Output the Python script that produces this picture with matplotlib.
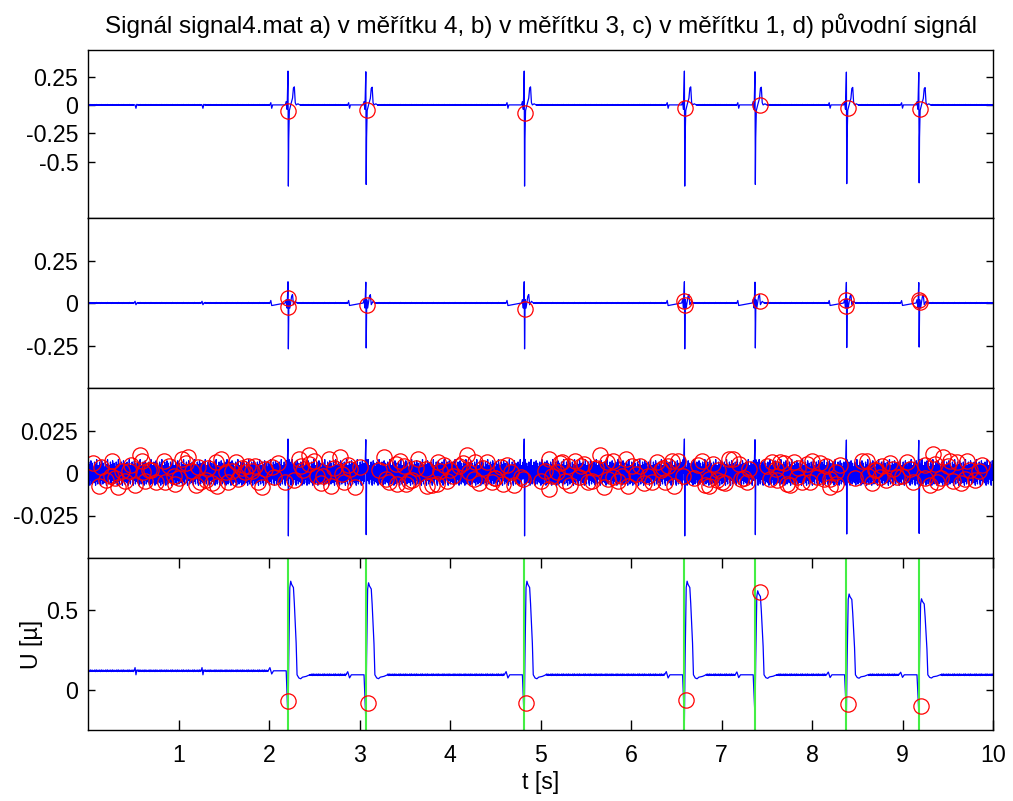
import numpy as np
import matplotlib
matplotlib.use('Agg')
import matplotlib.pyplot as plt

plt.rcParams['font.family'] = ['Liberation Sans', 'DejaVu Sans']

# detected beats (green lines) and per-beat peak of original signal
beats = [2.21, 3.07, 4.82, 6.59, 7.37, 8.38, 9.18]
peaks = [0.68, 0.67, 0.68, 0.68, 0.62, 0.60, 0.57]
small_waves = [0.52, 1.26]

# beat shapes (offset [s], value above baseline)
p4_off = [-0.22, -0.2, -0.18, -0.16, -0.02, 0.0, 0.008, 0.02, 0.03, 0.04, 0.06, 0.07, 0.09, 0.10, 0.12, 0.14, 0.16, 0.20, 0.24]
p4_val = [0, 0.02, -0.02, 0, 0, -0.29, 0.1, 0.55, 0.59, 0.57, 0.55, 0.45, 0.2, 0.0, -0.02, -0.025, -0.015, -0.01, 0]
p1_off = [-0.2, -0.19, -0.18, -0.17, -0.03, -0.02, -0.01, 0.0, 0.004, 0.008, 0.015, 0.03, 0.05, 0.06, 0.07, 0.08, 0.09, 0.11, 0.13]
p1_val = [0, 0.02, -0.03, 0, 0, 0.03, -0.04, 0.3, -0.72, -0.3, -0.05, 0, 0.06, 0.15, 0.16, 0.02, 0.0, 0.01, 0]
p2_off = [-0.2, -0.19, -0.18, -0.03, -0.02, -0.01, 0.0, 0.004, 0.01, 0.02, 0.04, 0.05, 0.06, 0.08, 0.10]
p2_val = [0, 0.015, -0.015, 0, 0.02, -0.03, 0.125, -0.27, 0.02, -0.03, 0.04, 0.05, -0.01, 0.01, 0]
p3_off = [-0.01, 0.0, 0.004, 0.01, 0.02]
p3_val = [0, 0.02, -0.037, 0.008, 0]
sw_off = [-0.01, 0.0, 0.01, 0.02, 0.03]
sw_val = [0, 0.02, -0.025, 0.005, 0]

noise_pat = [0.6, -0.5, 0.9, -0.8, 0.4, -1.0, 0.7, -0.3, 1.0, -0.6,
             0.2, -0.9, 0.8, -0.7, 0.5, -0.4, 0.3, -0.8, 0.9, -0.5,
             0.7, -1.0, 0.5, -0.6, 1.1, -0.7, 0.3, -0.9, 0.6, -0.4]

# detections (red circles)
c1_t = [2.21, 3.08, 4.83, 6.60, 7.43, 8.40, 9.19]
c1_v = [-0.05, -0.045, -0.07, -0.02, 0.0, -0.02, -0.035]
c2_t = [2.21, 2.21, 3.08, 4.83, 6.59, 6.60, 7.42, 8.38, 8.38, 9.18, 9.19]
c2_v = [0.03, -0.025, -0.01, -0.035, 0.01, -0.01, 0.01, 0.02, -0.02, 0.02, 0.005]
c4_t = [2.21, 3.09, 4.84, 6.61, 7.43, 8.40, 9.20]
c4_v = [-0.07, -0.08, -0.08, -0.065, 0.61, -0.09, -0.10]
c3_t = [0.12, 0.14, 0.27, 0.25, 0.38, 0.41, 0.45, 0.58, 0.60, 0.61, 0.63, 0.84, 0.85, 0.95, 0.96,
        1.04, 1.11, 1.15, 1.22, 1.24, 1.41, 1.42, 1.52, 1.59, 1.63, 1.66, 1.74, 1.77, 1.85, 1.88,
        1.96, 2.03, 2.05, 2.18, 2.33, 2.35, 2.44, 2.44, 2.53, 2.66, 2.68, 2.79, 2.81, 2.90, 2.83,
        3.27, 3.29, 3.40, 3.41, 3.49, 3.51, 3.65, 3.73, 3.75, 3.87, 3.89, 3.86, 3.97, 4.10, 4.19,
        4.21, 4.26, 4.28, 4.41, 4.46, 4.56, 4.59, 4.67, 4.78, 4.81, 5.01, 5.09, 5.09, 5.18, 5.24,
        5.27, 5.38, 5.42, 5.48, 5.57, 5.66, 5.73, 5.75, 5.86, 5.94, 5.97, 6.01, 6.05, 6.19, 6.23,
        6.29, 6.41, 6.45, 6.47, 6.58, 6.78, 6.86, 6.86, 6.91, 7.00, 7.08, 7.19, 7.22, 7.30, 7.28,
        7.56, 7.54, 7.65, 7.72, 7.80, 7.83, 7.89, 7.94, 8.00, 8.05, 8.13, 8.16, 8.27, 8.27, 8.61,
        8.62, 8.77, 8.75, 8.90, 8.94, 9.05, 9.08, 9.12, 9.34, 9.36, 9.45, 9.38, 9.56, 9.60, 9.71,
        9.69, 0.30, 0.70, 1.30, 1.70, 2.60, 3.00, 3.55, 4.00, 4.50, 5.30, 5.80, 6.35, 6.95, 7.60,
        8.20, 8.70, 9.25, 9.85,
        0.05, 0.20, 0.33, 0.48, 0.52, 0.67, 0.75, 0.90, 1.00, 1.08, 1.19, 1.33, 1.37, 1.47, 1.55,
        1.81, 1.92, 2.10, 2.28, 2.38, 2.50, 2.57, 2.72, 2.87, 2.95, 3.22, 3.33, 3.45, 3.58, 3.62,
        3.80, 3.93, 4.03, 4.14, 4.32, 4.37, 4.50, 4.63, 4.71, 5.05, 5.13, 5.21, 5.33, 5.45, 5.52,
        5.61, 5.70, 5.80, 5.90, 6.10, 6.14, 6.33, 6.38, 6.52, 6.70, 6.74, 6.82, 6.96, 7.04, 7.13,
        7.25, 7.50, 7.61, 7.69, 7.76, 7.85, 7.98, 8.09, 8.20, 8.31, 8.47, 8.55, 8.66, 8.71, 8.82,
        8.86, 8.99, 9.25, 9.30, 9.42, 9.50, 9.53, 9.65, 9.75, 9.80, 9.88]
c3_v = [-0.0075, 0.0034, 0.0073, -0.0016, 0.0014, -0.0046, 0.0014, 0.0103, 0.0073, 0.0004, -0.0046,
        0.0073, -0.0055, -0.0016, -0.0065, 0.0083, 0.0093, 0.0014, 0.0034, -0.0055, 0.0064, -0.0075,
        0.0004, 0.0014, 0.0064, -0.0036, 0.0004, 0.0044, 0.0044, -0.0055, 0.0024, 0.0034, -0.0026,
        -0.0055, 0.0083, 0.0044, 0.0103, 0.0054, -0.0016, 0.0083, -0.0075, 0.0093, -0.0006, 0.0024,
        -0.0055, 0.0093, -0.0036, 0.0054, -0.0065, 0.0044, -0.0065, 0.0083, 0.0024, -0.0075, 0.0064,
        0.0014, -0.0065, -0.0046, 0.0044, 0.0103, 0.0004, -0.0036, 0.0064, 0.0064, -0.0055, 0.0034,
        -0.0065, 0.0004, -0.0026, -0.0036, -0.0046, 0.0083, -0.0095, 0.0004, 0.0064, -0.0046, 0.0073,
        -0.0026, 0.0054, -0.0046, 0.0103, 0.0064, -0.0036, -0.0046, 0.0083, -0.0075, 0.0044, -0.0006,
        -0.0016, -0.0055, 0.0064, 0.0044, 0.0073, -0.0075, -0.0016, 0.0073, -0.0036, -0.0075, 0.0054,
        -0.0055, 0.0083, 0.0054, -0.0036, 0.0024, -0.0055, 0.0064, -0.0036, 0.0064, -0.0065, 0.0064,
        -0.0026, -0.0055, 0.0054, 0.0073, -0.0026, -0.0036, 0.0044, 0.0004, -0.0065, 0.0073, -0.0016,
        0.0044, -0.0026, 0.0024, -0.0026, 0.0064, 0.0024, -0.0055, 0.0113, 0.0054, 0.0093, -0.0055,
        -0.0046, 0.0064, 0.0073, -0.0036, -0.0030, 0.0020, -0.0040, 0.0030, -0.0020, 0.0035, -0.0045,
        0.0015, -0.0030, 0.0040, -0.0025, 0.0030, -0.0040, 0.0025, -0.0035, 0.0020, -0.0030, 0.0010,
        0.0060, -0.0040, -0.0080, 0.0050, -0.0070, 0.0020, -0.0050, 0.0040, -0.0030, 0.0060, -0.0070,
        0.0030, -0.0060, 0.0080, -0.0050, 0.0010, -0.0080, 0.0060, -0.0040, 0.0020, 0.0070, -0.0060,
        0.0030, 0.0050, -0.0080, 0.0020, -0.0050, 0.0070, -0.0040, 0.0030, -0.0070, 0.0050, -0.0020,
        0.0060, -0.0060, 0.0030, -0.0030, 0.0050, -0.0070, 0.0010, -0.0020, 0.0060, -0.0070, 0.0040,
        -0.0050, 0.0030, -0.0080, 0.0070, -0.0020, 0.0040, -0.0060, 0.0020, -0.0050, 0.0070, -0.0030,
        0.0050, -0.0070, 0.0020, -0.0060, 0.0080, -0.0030, 0.0040, -0.0040, 0.0060, -0.0070, 0.0030,
        -0.0050, 0.0060, -0.0080, 0.0050, -0.0030, 0.0070, -0.0060, 0.0020, -0.0040, 0.0060, -0.0020,
        0.0050, -0.0070, -0.0030, 0.0040, 0.0070, -0.0060, 0.0020, -0.0040, 0.0050]


def build(step, base_fn, noise_amp, off, val, amps, extra=None):
    t = np.arange(0, 10.0001, step)
    v = base_fn(t) + noise_amp * np.resize(noise_pat, t.size)
    keep = np.ones(t.size, bool)
    xs, ys = [], []
    events = [(b, off, val, a) for b, a in zip(beats, amps)]
    if extra is not None:
        events += [(w, sw_off, extra, 1.0) for w in small_waves]
    for t0, o, vv, a in events:
        o = np.asarray(o)
        keep &= (t < t0 + o[0]) | (t > t0 + o[-1])
        xs.append(t0 + o)
        ys.append(base_fn(t0 + o) + a * np.asarray(vv))
    xs.append(t[keep])
    ys.append(v[keep])
    x = np.concatenate(xs)
    y = np.concatenate(ys)
    order = np.argsort(x, kind='stable')
    return x[order], y[order]


def const(c):
    return lambda t: np.zeros_like(np.asarray(t, float)) + c


base4 = lambda t: np.where(np.asarray(t) < 2.2, 0.12, 0.095)
amp4 = [(p - 0.095) / 0.59 for p in peaks]
amp_d = [1.0, 0.98, 1.0, 1.0, 0.98, 0.97, 0.96]

s1 = build(0.004, const(0.003), 0.004, p1_off, p1_val, amp_d, extra=[0, 0.0, -0.03, 0.005, 0])
s2 = build(0.004, const(0.0), 0.003, p2_off, p2_val, amp_d, extra=[0, 0.01, -0.01, 0.0, 0])
s3 = build(0.004, const(0.0), 0.0072, p3_off, p3_val, amp_d)
s4 = build(0.004, base4, 0.005, p4_off, p4_val, amp4, extra=sw_val)

fig = plt.figure(figsize=(10.13, 8.01), dpi=100)
L, W = 88 / 1013, 905 / 1013
edges = [50, 218, 388, 558, 730]
panels = [
    (s1, c1_t, c1_v, (-1.0, 0.49), [-0.5, -0.25, 0, 0.25], ['-0.5', '-0.25', '0', '0.25']),
    (s2, c2_t, c2_v, (-0.5, 0.5), [-0.25, 0, 0.25], ['-0.25', '0', '0.25']),
    (s3, c3_t, c3_v, (-0.05, 0.05), [-0.025, 0, 0.025], ['-0.025', '0', '0.025']),
    (s4, c4_t, c4_v, (-0.25, 0.825), [0, 0.5], ['0', '0.5']),
]
axes = []
for i, (sig, ct, cv, yl, yt, ytl) in enumerate(panels):
    top, bot = edges[i], edges[i + 1]
    ax = fig.add_axes([L, 1 - bot / 801, W, (bot - top) / 801])
    ax.plot(sig[0], sig[1], color='#0000ff', lw=0.9)
    if i == 3:
        for b in beats:
            ax.axvline(b, color='#44ee44', lw=1.5)
    ax.plot(ct, cv, 'o', ms=11, mfc='none', mec='#ff0000', mew=0.9)
    ax.set_xlim(0, 10)
    ax.set_ylim(*yl)
    ax.set_yticks(yt)
    ax.set_yticklabels(ytl)
    ax.tick_params(direction='in', length=5, width=1, labelsize=16.7, right=True, top=(i == 3))
    ax.tick_params(axis='y', pad=7)
    if i == 3:
        ax.set_xticks(range(1, 11))
        ax.tick_params(axis='x', length=7, pad=10)
    else:
        ax.set_xticks([])
    for sp in ax.spines.values():
        sp.set_linewidth(1)
    axes.append(ax)

axes[0].set_title('Signál signal4.mat a) v měřítku 4, b) v měřítku 3, c) v měřítku 1, d) původní signál',
                  fontsize=17.5, pad=12)
axes[3].set_xlabel('t [s]', fontsize=16.7, labelpad=3)
axes[3].set_ylabel('U [µ]', fontsize=16.7, labelpad=2)

fig.savefig('out.png', dpi=100)
